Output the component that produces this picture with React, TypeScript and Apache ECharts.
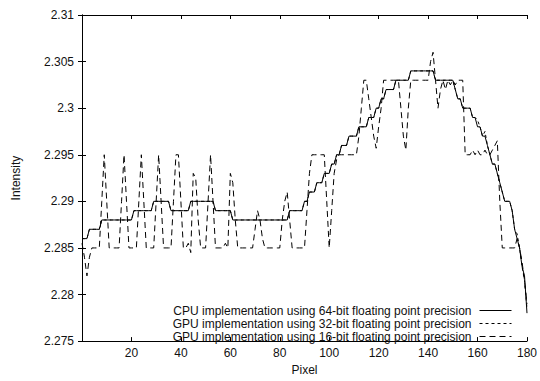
import React, { useEffect, useRef } from "react";
import * as echarts from "echarts";

const FONT = "'Liberation Sans', Arial, Helvetica, sans-serif";

const X_MIN = 0;
const X_MAX = 180;
const X_TICK = 20;
const Y_MIN = 2.275;
const Y_MAX = 2.31;
const Y_TICK = 0.005;

const SERIES_NAMES = [
  "CPU implementation using 64-bit floating point precision",
  "GPU implementation using 32-bit floating point precision",
  "GPU implementation using 16-bit floating point precision",
];

// pixel index 0..180
const PIXELS: number[] = Array.from({ length: 181 }, (_, i) => i);

const CPU64: number[] = [
  2.286, 2.286, 2.286, 2.287, 2.287, 2.287, 2.287, 2.287, 2.288, 2.288,
  2.288, 2.288, 2.288, 2.288, 2.288, 2.288, 2.288, 2.288, 2.288, 2.288,
  2.288, 2.289, 2.289, 2.289, 2.289, 2.289, 2.289, 2.289, 2.289, 2.29,
  2.29, 2.29, 2.29, 2.29, 2.29, 2.29, 2.289, 2.289, 2.289, 2.289,
  2.289, 2.289, 2.289, 2.289, 2.29, 2.29, 2.29, 2.29, 2.29, 2.29,
  2.29, 2.29, 2.29, 2.29, 2.289, 2.289, 2.289, 2.289, 2.289, 2.289,
  2.289, 2.288, 2.288, 2.288, 2.288, 2.288, 2.288, 2.288, 2.288, 2.288,
  2.288, 2.288, 2.288, 2.288, 2.288, 2.288, 2.288, 2.288, 2.288, 2.288,
  2.288, 2.288, 2.288, 2.288, 2.289, 2.289, 2.289, 2.289, 2.289, 2.289,
  2.29, 2.29, 2.291, 2.291, 2.291, 2.292, 2.292, 2.292, 2.293, 2.293,
  2.293, 2.294, 2.294, 2.295, 2.295, 2.296, 2.296, 2.296, 2.297, 2.297,
  2.297, 2.297, 2.298, 2.298, 2.298, 2.298, 2.299, 2.299, 2.299, 2.3,
  2.3, 2.301, 2.301, 2.302, 2.302, 2.302, 2.302, 2.303, 2.303, 2.303,
  2.303, 2.303, 2.303, 2.304, 2.304, 2.304, 2.304, 2.304, 2.304, 2.304,
  2.304, 2.304, 2.304, 2.303, 2.303, 2.303, 2.303, 2.303, 2.303, 2.303,
  2.303, 2.302, 2.301, 2.301, 2.3, 2.3, 2.3, 2.3, 2.299, 2.299,
  2.298, 2.298, 2.297, 2.297, 2.296, 2.295, 2.294, 2.294, 2.293, 2.292,
  2.291, 2.29, 2.29, 2.29, 2.289, 2.287, 2.286, 2.285, 2.283, 2.282,
  2.278,
];

const GPU32: number[] = [
  2.286, 2.286, 2.286, 2.287, 2.287, 2.287, 2.287, 2.287, 2.288, 2.288,
  2.288, 2.288, 2.288, 2.288, 2.288, 2.288, 2.288, 2.288, 2.288, 2.288,
  2.288, 2.289, 2.289, 2.289, 2.289, 2.289, 2.289, 2.289, 2.289, 2.29,
  2.29, 2.29, 2.29, 2.29, 2.29, 2.29, 2.289, 2.289, 2.289, 2.289,
  2.289, 2.289, 2.289, 2.289, 2.29, 2.29, 2.29, 2.29, 2.29, 2.29,
  2.29, 2.29, 2.29, 2.29, 2.289, 2.289, 2.289, 2.289, 2.289, 2.289,
  2.289, 2.288, 2.288, 2.288, 2.288, 2.288, 2.288, 2.288, 2.288, 2.288,
  2.288, 2.288, 2.288, 2.288, 2.288, 2.288, 2.288, 2.288, 2.288, 2.288,
  2.288, 2.288, 2.288, 2.288, 2.289, 2.289, 2.289, 2.289, 2.289, 2.289,
  2.29, 2.29, 2.291, 2.291, 2.291, 2.292, 2.292, 2.292, 2.293, 2.293,
  2.293, 2.294, 2.294, 2.295, 2.295, 2.296, 2.296, 2.296, 2.297, 2.297,
  2.297, 2.297, 2.298, 2.298, 2.298, 2.298, 2.299, 2.299, 2.299, 2.3,
  2.3, 2.301, 2.301, 2.302, 2.302, 2.302, 2.302, 2.303, 2.303, 2.303,
  2.303, 2.303, 2.303, 2.304, 2.304, 2.304, 2.304, 2.304, 2.304, 2.304,
  2.304, 2.304, 2.304, 2.303, 2.303, 2.303, 2.303, 2.303, 2.303, 2.303,
  2.303, 2.302, 2.301, 2.301, 2.3, 2.3, 2.3, 2.3, 2.299, 2.299,
  2.2987, 2.298, 2.297, 2.2975, 2.296, 2.295, 2.294, 2.294, 2.293, 2.292,
  2.291, 2.29, 2.29, 2.29, 2.289, 2.287, 2.2865, 2.285, 2.283, 2.2815,
  2.2785,
];

const GPU16: number[] = [
  2.2855, 2.284, 2.282, 2.284, 2.285, 2.285, 2.285, 2.285, 2.29, 2.295,
  2.29, 2.285, 2.285, 2.285, 2.285, 2.285, 2.29, 2.295, 2.29, 2.285,
  2.285, 2.285, 2.285, 2.29, 2.295, 2.29, 2.285, 2.285, 2.285, 2.285,
  2.29, 2.295, 2.29, 2.285, 2.285, 2.285, 2.285, 2.29, 2.295, 2.295,
  2.29, 2.285, 2.285, 2.2855, 2.2845, 2.293, 2.2925, 2.288, 2.285, 2.285,
  2.285, 2.29, 2.295, 2.29, 2.285, 2.285, 2.285, 2.285, 2.2855, 2.285,
  2.293, 2.292, 2.288, 2.285, 2.285, 2.285, 2.285, 2.285, 2.285, 2.285,
  2.287, 2.289, 2.288, 2.286, 2.285, 2.285, 2.285, 2.285, 2.285, 2.285,
  2.285, 2.288, 2.29, 2.291, 2.288, 2.285, 2.285, 2.285, 2.285, 2.285,
  2.285, 2.289, 2.293, 2.295, 2.295, 2.295, 2.295, 2.295, 2.295, 2.29,
  2.285, 2.289, 2.293, 2.2945, 2.295, 2.295, 2.295, 2.295, 2.295, 2.295,
  2.295, 2.295, 2.297, 2.3, 2.303, 2.303, 2.301, 2.299, 2.297, 2.2957,
  2.298, 2.3, 2.303, 2.303, 2.303, 2.303, 2.303, 2.303, 2.303, 2.3,
  2.297, 2.2955, 2.3, 2.303, 2.303, 2.303, 2.303, 2.303, 2.303, 2.303,
  2.303, 2.305, 2.306, 2.303, 2.3, 2.302, 2.303, 2.302, 2.303, 2.3025,
  2.303, 2.3025, 2.303, 2.303, 2.303, 2.295, 2.295, 2.295, 2.2955, 2.295,
  2.2955, 2.295, 2.295, 2.2955, 2.295, 2.295, 2.2955, 2.296, 2.2965, 2.29,
  2.285, 2.285, 2.285, 2.285, 2.285, 2.285, 2.286, 2.285, 2.2835, 2.2815,
  2.279,
];

const LINE_DASHES: (string | number[])[] = ["solid", [3, 3], [6, 4]];

export default function App() {
  const ref = useRef<HTMLDivElement>(null);

  useEffect(() => {
    if (!ref.current) return;
    const chart = echarts.init(ref.current, undefined, { renderer: "svg" });
    const values = [CPU64, GPU32, GPU16];

    const axisCommon = {
      axisLine: { show: true, lineStyle: { color: "#000", width: 1 } },
      axisTick: { show: true, inside: true, length: 4, lineStyle: { color: "#000", width: 1 } },
      splitLine: { show: false },
    };

    const option: any = {
      animation: false,
      backgroundColor: "#fff",
      grid: { left: 82, right: 13, top: 15, bottom: 35, containLabel: false },
      legend: {
        orient: "vertical",
        right: 23,
        bottom: 33,
        align: "right",
        itemWidth: 32,
        itemHeight: 8,
        itemGap: 0,
        selectedMode: false,
        itemStyle: { opacity: 0, borderWidth: 0 },
        lineStyle: { width: 1 },
        textStyle: {
          fontSize: 12,
          lineHeight: 13,
          color: "#111",
          fontFamily: FONT,
          padding: [0, 3, 0, 0],
        },
        data: SERIES_NAMES,
      },
      xAxis: [
        {
          type: "value",
          position: "bottom",
          min: X_MIN,
          max: X_MAX,
          interval: X_TICK,
          name: "Pixel",
          nameLocation: "middle",
          nameGap: 22,
          nameTextStyle: { fontSize: 12, color: "#111", fontFamily: FONT },
          axisLabel: {
            fontSize: 12,
            color: "#111",
            fontFamily: FONT,
            margin: 6,
            formatter: (v: number) => (v === 0 ? "" : String(v)),
          },
          ...axisCommon,
        },
        {
          type: "value",
          position: "top",
          min: X_MIN,
          max: X_MAX,
          interval: X_TICK,
          axisLabel: { show: false },
          ...axisCommon,
        },
      ],
      yAxis: [
        {
          type: "value",
          position: "left",
          min: Y_MIN,
          max: Y_MAX,
          interval: Y_TICK,
          name: "Intensity",
          nameLocation: "middle",
          nameGap: 60,
          nameRotate: 90,
          nameTextStyle: { fontSize: 12, color: "#111", fontFamily: FONT },
          axisLabel: {
            fontSize: 12,
            color: "#111",
            fontFamily: FONT,
            margin: 8,
            formatter: (v: number) => String(parseFloat(v.toFixed(3))),
          },
          ...axisCommon,
        },
        {
          type: "value",
          position: "right",
          min: Y_MIN,
          max: Y_MAX,
          interval: Y_TICK,
          axisLabel: { show: false },
          ...axisCommon,
        },
      ],
      series: SERIES_NAMES.map((name, s) => ({
        name,
        type: "line",
        xAxisIndex: 0,
        yAxisIndex: 0,
        showSymbol: false,
        symbol: "none",
        z: 3 - s,
        lineStyle: { color: "#000", width: 1, type: LINE_DASHES[s] },
        itemStyle: { color: "#000" },
        data: PIXELS.map((p, i) => [p, values[s][i]]),
      })),
    };

    chart.setOption(option);
    return () => chart.dispose();
  }, []);

  return (
    <div
      ref={ref}
      style={{ position: "fixed", left: 0, top: 0, width: 540, height: 381, background: "#fff" }}
    />
  );
}
